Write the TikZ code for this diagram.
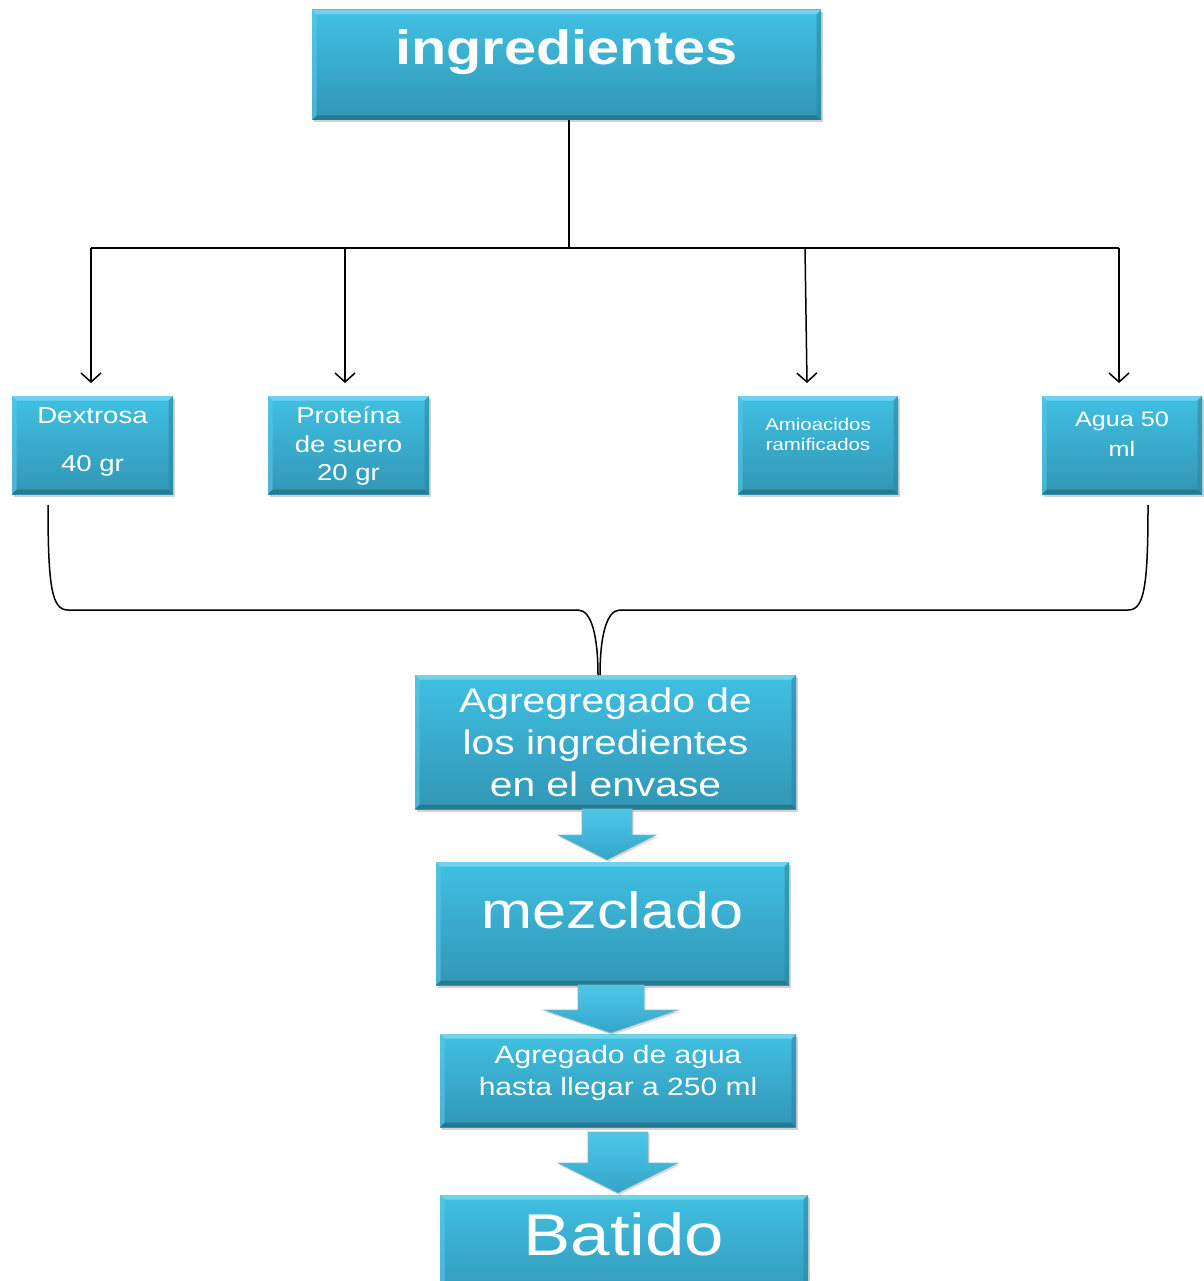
\documentclass[tikz,border=0pt]{standalone}
\usepackage{fontspec}
\setmainfont{Liberation Sans}[FakeStretch=1.2]
\usetikzlibrary{arrows.meta,shadows,calc}
\definecolor{boxtop}{RGB}{64,192,226}
\definecolor{boxbot}{RGB}{50,150,182}
\definecolor{bevlight}{RGB}{118,214,240}
\definecolor{bevside}{RGB}{88,200,232}
\definecolor{bevright}{RGB}{45,135,165}
\definecolor{bevdark}{RGB}{40,115,140}
\definecolor{arrtop}{RGB}{78,200,232}
\definecolor{arrbot}{RGB}{52,165,200}
\tikzset{
  box/.style={rectangle, inner sep=0pt, draw=none,
    top color=boxtop, bottom color=boxbot,
    drop shadow={shadow xshift=1.5pt, shadow yshift=-2.5pt, opacity=0.25, fill=black!70},
    path picture={
      \def\bv{4.5pt}
      \fill[bevlight,opacity=0.9] (path picture bounding box.north west) -- (path picture bounding box.north east)
        -- ([xshift=-\bv,yshift=-\bv]path picture bounding box.north east)
        -- ([xshift=\bv,yshift=-\bv]path picture bounding box.north west) -- cycle;
      \fill[bevdark,opacity=0.85] (path picture bounding box.south west) -- (path picture bounding box.south east)
        -- ([xshift=-\bv,yshift=\bv]path picture bounding box.south east)
        -- ([xshift=\bv,yshift=\bv]path picture bounding box.south west) -- cycle;
      \fill[bevside,opacity=0.6] (path picture bounding box.north west) -- ([xshift=\bv,yshift=-\bv]path picture bounding box.north west)
        -- ([xshift=\bv,yshift=\bv]path picture bounding box.south west) -- (path picture bounding box.south west) -- cycle;
      \fill[bevright,opacity=0.6] (path picture bounding box.north east) -- ([xshift=-\bv,yshift=-\bv]path picture bounding box.north east)
        -- ([xshift=-\bv,yshift=\bv]path picture bounding box.south east) -- (path picture bounding box.south east) -- cycle;
    }},
  txt/.style={text=white, align=center, inner sep=0pt},
  conn/.style={line width=1.5pt, black},
  arr/.style={conn, -{Straight Barb[length=9pt,width=20pt,line width=1.5pt]}},
  blockarr/.style={top color=arrtop, bottom color=arrbot, draw=bevright!60, line width=0.6pt,
    drop shadow={shadow xshift=1.5pt, shadow yshift=-2pt, opacity=0.2, fill=black!70}},
}
\newcommand\blockarrow[6]{% x, ytop, yneck, ytip, shaft half, head half
  \path[blockarr] (#1-#5,#2) -- (#1+#5,#2) -- (#1+#5,#3) -- (#1+#6,#3) -- (#1,#4)
    -- (#1-#6,#3) -- (#1-#5,#3) -- cycle;}
\begin{document}
\begin{tikzpicture}[x=1pt,y=-1pt]
\useasboundingbox[fill=white] (0,0) rectangle (1203,1281);

% boxes
\node[box, minimum width=509pt, minimum height=110pt] (ing) at (566.5,65) {};
\node[box, minimum width=161pt, minimum height=98pt] (dex) at (92.5,445) {};
\node[box, minimum width=161pt, minimum height=98pt] (pro) at (348.5,445) {};
\node[box, minimum width=160pt, minimum height=98pt] (ami) at (818,445) {};
\node[box, minimum width=160pt, minimum height=98pt] (agu) at (1122,445) {};
\node[box, minimum width=381pt, minimum height=134pt] (agr) at (605.5,742) {};
\node[box, minimum width=353pt, minimum height=123pt] (mez) at (612.5,923.5) {};
\node[box, minimum width=356pt, minimum height=93pt] (agw) at (618,1080.5) {};
\begin{scope}
\clip (0,0) rectangle (1203,1281);
\node[box, minimum width=368pt, minimum height=110pt] (bat) at (624,1250) {};
\end{scope}

% texts
\node[txt, font=\fontsize{48}{52}\selectfont\bfseries] (ing-t) at (566.5,52) {ingredientes};
\node[txt, font=\fontsize{23}{24}\selectfont] (dex-t) at (92.5,442) {Dextrosa\\[24pt]40 gr};
\node[txt, font=\fontsize{23}{28.5}\selectfont] (pro-t) at (348.5,446) {Proteína\\de suero\\20 gr};
\node[txt, font=\fontsize{17}{20}\selectfont] (ami-t) at (818,434) {Amioacidos\\ramificados};
\node[txt, font=\fontsize{21}{30}\selectfont] (agu-t) at (1122,434) {Agua 50\\ml};
\node[txt, font=\fontsize{34}{42}\selectfont] (agr-t) at (605.5,742) {Agregregado de\\los ingredientes\\en el envase};
\node[txt, font=\fontsize{51}{56}\selectfont] (mez-t) at (612.5,910) {mezclado};
\node[txt, font=\fontsize{25}{32}\selectfont] (agw-t) at (618,1073) {Agregado de agua\\hasta llegar a 250 ml};
\node[txt, font=\fontsize{59}{62}\selectfont] (bat-t) at (624,1234) {Batido};

% tree connectors
\coordinate (bus) at (569,248);
\coordinate (t1) at (91,248);
\coordinate (t2) at (345,248);
\coordinate (t3) at (805,248);
\coordinate (t4) at (1119,248);
\coordinate (e1) at (91,383);
\coordinate (e2) at (345,383);
\coordinate (e3) at (807,383);
\coordinate (e4) at (1119,383);
\draw[conn] (bus |- ing.south) -- (bus);
\draw[conn] (t1) -- (t4);
\draw[arr] (t1) -- (e1);
\draw[arr] (t2) -- (e2);
\draw[arr] (t3) -- (e3);
\draw[arr] (t4) -- (e4);

% brace
\coordinate (bl) at (48,505);
\coordinate (br) at (1148,505);
\coordinate (ml) at (598,675);
\coordinate (mr) at (600,675);
\draw[conn] (bl) .. controls (48,588) and (52,610) .. (68,610) -- (578,610)
  .. controls (592,610) and (598,638) .. (ml);
\draw[conn] (br) .. controls (1148,588) and (1144,610) .. (1128,610) -- (620,610)
  .. controls (606,610) and (600,638) .. (mr);

% block arrows
\blockarrow{607}{809}{835}{860}{25}{49}
\blockarrow{611}{985}{1010}{1033}{33}{67}
\blockarrow{618}{1132}{1163}{1193}{30}{60}
\end{tikzpicture}
\end{document}
